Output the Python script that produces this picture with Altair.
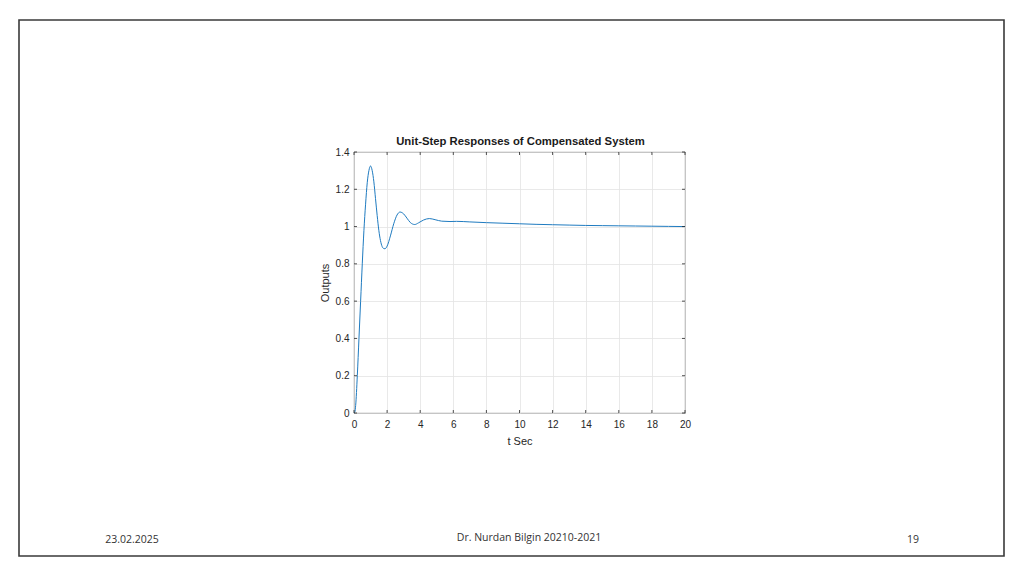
import altair as alt
import pandas as pd

# ---- data ----
t_sec = [0, 0.05, 0.1, 0.2, 0.3, 0.4, 0.5, 0.6, 0.7, 0.8, 0.9, 1.0, 1.1, 1.2, 1.3,
         1.4, 1.5, 1.6, 1.7, 1.8, 1.87, 2.0, 2.2, 2.4, 2.6, 2.78, 3.0, 3.2, 3.4,
         3.67, 3.9, 4.2, 4.55, 4.9, 5.3, 5.8, 6.2, 7, 8, 9, 10, 11, 12, 13, 14,
         15, 16, 17, 18, 19, 20]
outputs = [0, 0.005, 0.04, 0.2, 0.4, 0.6, 0.8, 0.98, 1.12, 1.235, 1.3, 1.325, 1.3,
           1.24, 1.15, 1.06, 0.98, 0.925, 0.893, 0.882, 0.881, 0.895, 0.95, 1.015,
           1.062, 1.078, 1.068, 1.045, 1.022, 1.011, 1.02, 1.035, 1.043, 1.037,
           1.029, 1.027, 1.028, 1.025, 1.021, 1.018, 1.015, 1.012, 1.01, 1.008,
           1.006, 1.005, 1.004, 1.003, 1.002, 1.001, 1.0]
x_ticks = [0, 2, 4, 6, 8, 10, 12, 14, 16, 18, 20]
y_ticks = [0, 0.2, 0.4, 0.6, 0.8, 1.0, 1.2, 1.4]
chart_title = "Unit-Step Responses of Compensated System"
x_title = "t Sec"
y_title = "Outputs"
footer_date = "23.02.2025"
footer_author = "Dr. Nurdan Bilgin 20210-2021"
footer_page = "19"

W, H = 331, 261
FRAME = "#262626"

df = pd.DataFrame({"t": t_sec, "y": outputs})
xscale = alt.Scale(domain=[0, 20], nice=False, zero=False)
yscale = alt.Scale(domain=[0, 1.4], nice=False)
x_axis = alt.Axis(values=x_ticks, title=x_title, grid=True, ticks=False, domain=False,
                  labelPadding=6, titlePadding=6, labelFlush=False)
y_axis = alt.Axis(values=y_ticks, format="~g", title=y_title, grid=True, ticks=False,
                  domain=False, labelPadding=5, titlePadding=5)

line = alt.Chart(df).mark_line(color="#1f7bc0", strokeWidth=1, interpolate="monotone").encode(
    x=alt.X("t:Q", scale=xscale, axis=x_axis),
    y=alt.Y("y:Q", scale=yscale, axis=y_axis),
)

xt = pd.DataFrame({"t": x_ticks})
yt = pd.DataFrame({"y": y_ticks})
xtick_bottom = alt.Chart(xt).mark_rule(color=FRAME, strokeWidth=0.8).encode(
    x=alt.X("t:Q", scale=xscale, axis=x_axis), y=alt.value(H), y2=alt.value(H - 3))
xtick_top = alt.Chart(xt).mark_rule(color=FRAME, strokeWidth=0.8).encode(
    x=alt.X("t:Q", scale=xscale, axis=x_axis), y=alt.value(0), y2=alt.value(3))
ytick_left = alt.Chart(yt).mark_rule(color=FRAME, strokeWidth=0.8).encode(
    y=alt.Y("y:Q", scale=yscale, axis=y_axis), x=alt.value(0), x2=alt.value(3))
ytick_right = alt.Chart(yt).mark_rule(color=FRAME, strokeWidth=0.8).encode(
    y=alt.Y("y:Q", scale=yscale, axis=y_axis), x=alt.value(W), x2=alt.value(W - 3))

one = pd.DataFrame({"s": [chart_title]})
title = alt.Chart(one).mark_text(font="Liberation Sans", fontSize=11.3, fontWeight="bold",
                                 color="#1a1a1a", align="center", baseline="middle").encode(
    text="s:N", x=alt.value(W / 2 + 1), y=alt.value(-10))

border = alt.Chart(one).mark_rect(fillOpacity=0, stroke="#3a3a3a", strokeWidth=1.6).encode(
    x=alt.value(-335), x2=alt.value(650), y=alt.value(-132), y2=alt.value(404))

foot_font = dict(font="Open Sans", fontSize=10.5, color="#333333", baseline="middle")
f1 = alt.Chart(pd.DataFrame({"s": [footer_date]})).mark_text(align="center", **foot_font).encode(
    text="s:N", x=alt.value(-222), y=alt.value(388))
f2 = alt.Chart(pd.DataFrame({"s": [footer_author]})).mark_text(align="center", **foot_font).encode(
    text="s:N", x=alt.value(175), y=alt.value(386))
f3 = alt.Chart(pd.DataFrame({"s": [footer_page]})).mark_text(align="center", **foot_font).encode(
    text="s:N", x=alt.value(559), y=alt.value(388))

chart = alt.layer(line, xtick_bottom, xtick_top, ytick_left, ytick_right,
                  border, title, f1, f2, f3).properties(
    width=W, height=H,
    padding={"left": 346, "top": 144, "right": 331, "bottom": 151},
    autosize=alt.AutoSizeParams(type="none"),
    background="white",
).configure_view(
    stroke=FRAME, strokeWidth=0.9
).configure_axis(
    labelFont="Liberation Sans", labelFontSize=10, labelColor="#262626",
    titleFont="Liberation Sans", titleFontSize=11, titleColor="#262626", titleFontWeight="normal",
    gridColor="#e3e3e3", gridWidth=0.8,
)

chart.save("out.html", embed_options={"renderer": "svg", "actions": False})
